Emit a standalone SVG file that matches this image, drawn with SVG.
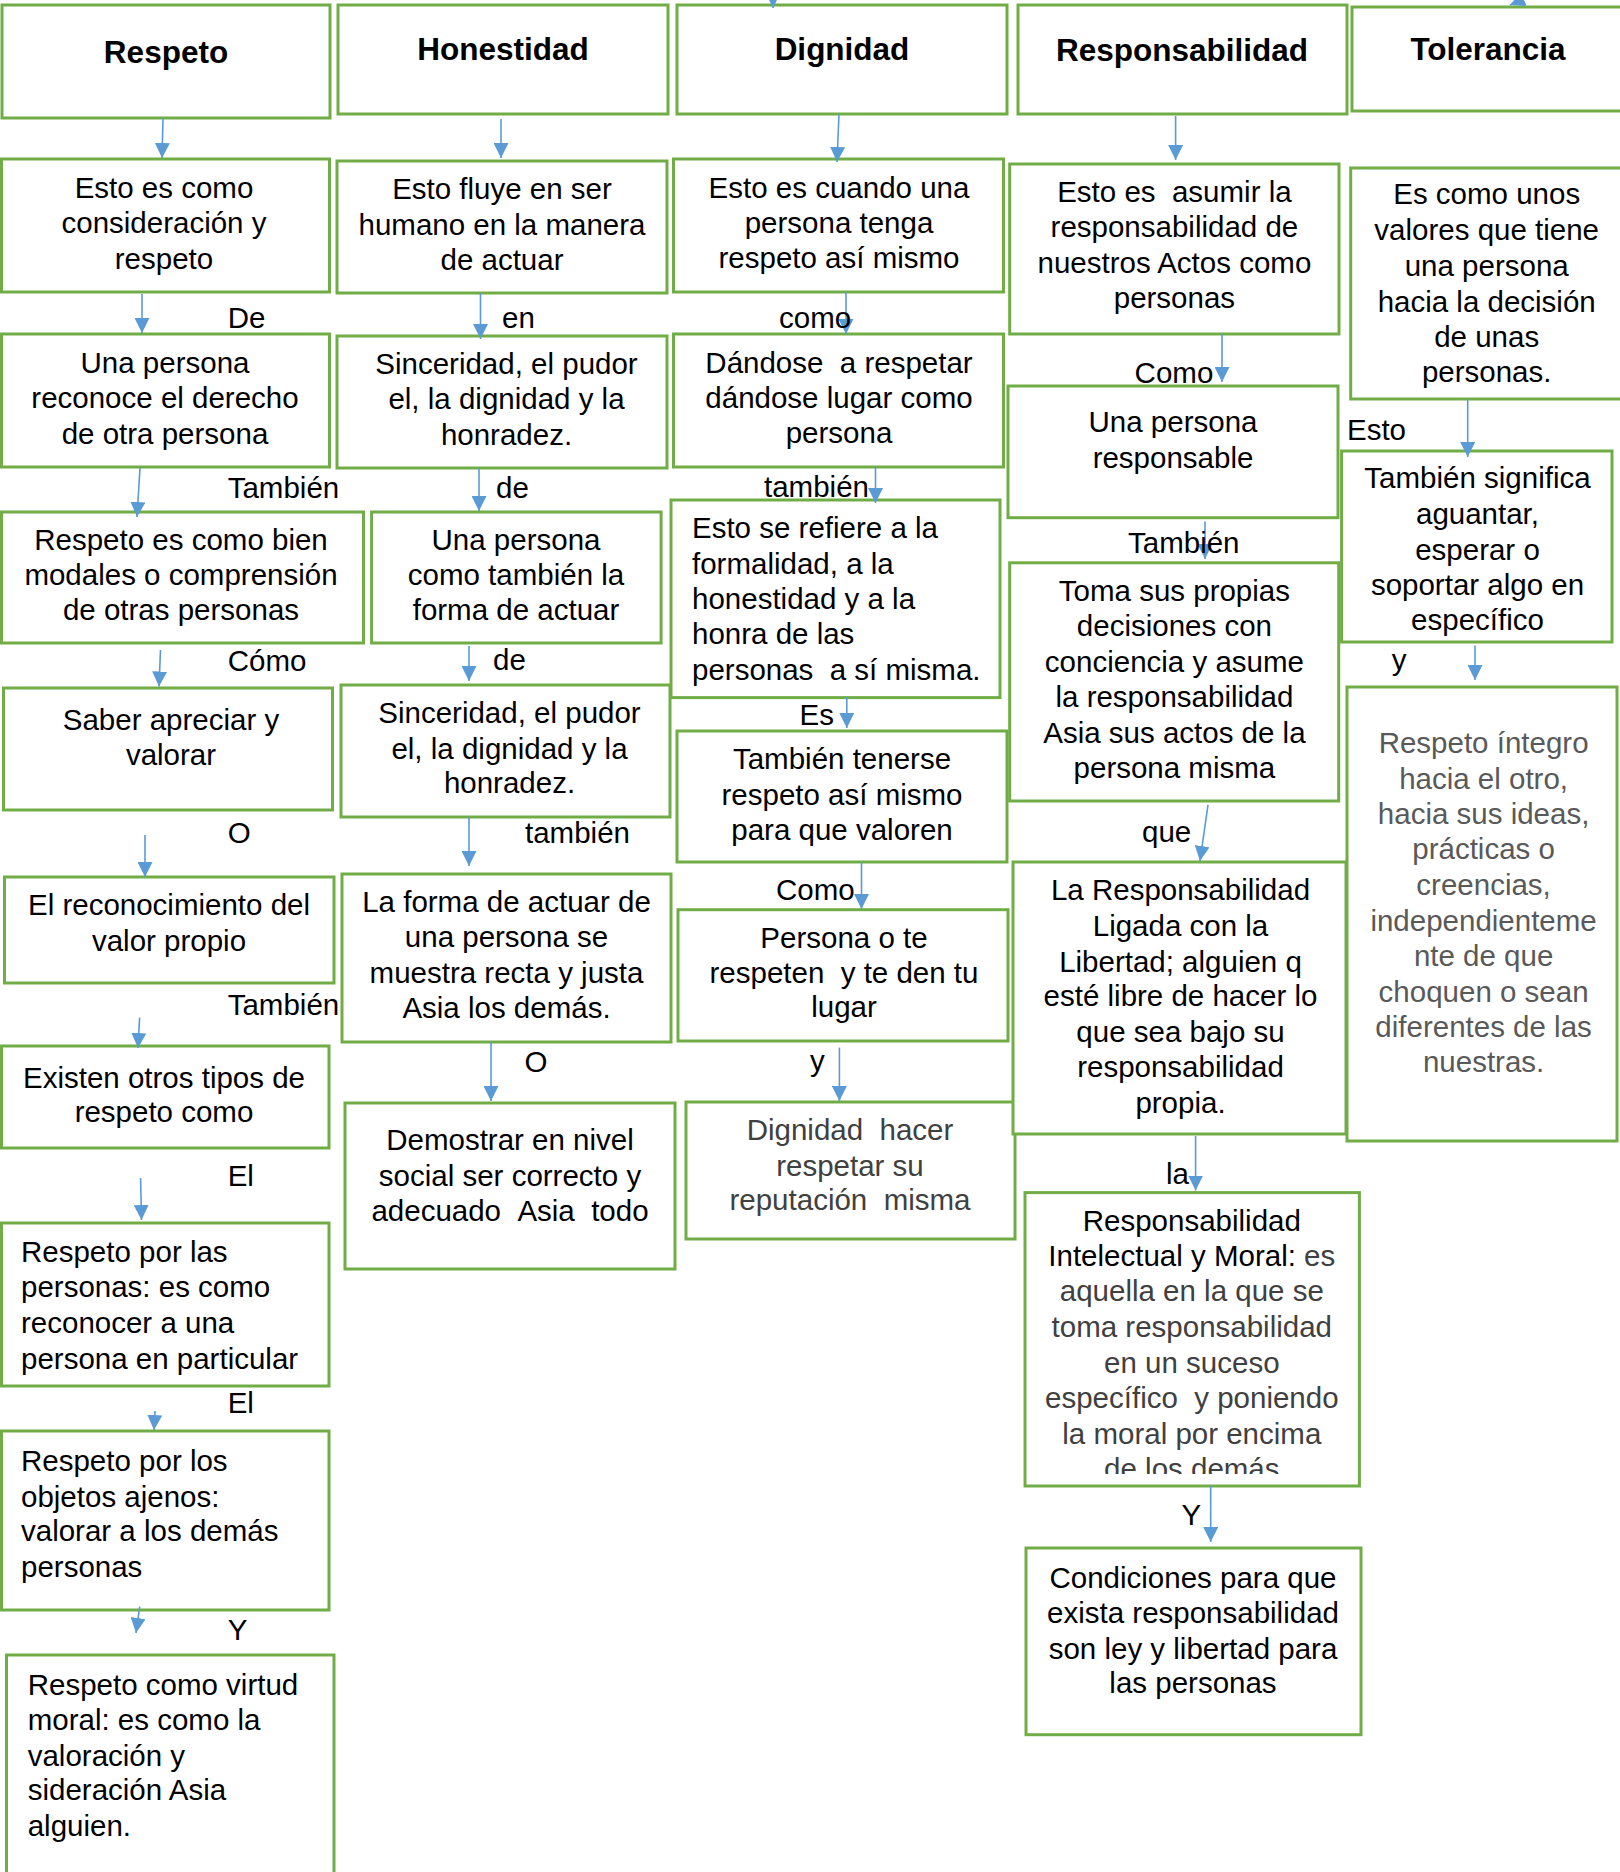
<svg xmlns="http://www.w3.org/2000/svg" width="1620" height="1872" viewBox="0 0 1620 1872">
<style>
.box{fill:#fff;stroke:#70AD47;stroke-width:3}
text{font-family:"Liberation Sans",Arial,sans-serif;font-size:29.5px;fill:#000}
.h{font-weight:bold;font-size:31.5px;text-anchor:middle}
.c{text-anchor:middle}
.g{fill:#595959}
.d{fill:#404040}
.ar{stroke:#5B9BD5;stroke-width:1.6;fill:none;marker-end:url(#ah)}
</style>
<defs>
<marker id="ah" viewBox="0 0 10 10" refX="10" refY="5" markerWidth="15" markerHeight="15" markerUnits="userSpaceOnUse" orient="auto">
<path d="M0,0 L10,5 L0,10 z" fill="#5B9BD5"/>
</marker>
<clipPath id="clip6"><rect x="1025" y="1192" width="334" height="282"/></clipPath>
</defs>
<rect x="0" y="0" width="1620" height="1872" fill="#fff"/>

<g id="col1">
<g id="n-respeto"><rect class="box" x="2" y="5" width="328" height="113"/><text class="h" x="166" y="63">Respeto</text></g>
<g id="n-c1b2"><rect class="box" x="1.5" y="159" width="328" height="133"/><text class="c"><tspan x="164" y="198">Esto es como</tspan><tspan x="164" y="233">consideración y</tspan><tspan x="164" y="269">respeto</tspan></text></g>
<g id="n-c1b3"><rect class="box" x="1.5" y="334" width="328" height="133"/><text class="c"><tspan x="165" y="373">Una persona</tspan><tspan x="165" y="408">reconoce el derecho</tspan><tspan x="165" y="444">de otra persona</tspan></text></g>
<g id="n-c1b4"><rect class="box" x="1.5" y="512" width="362" height="131"/><text class="c"><tspan x="181" y="550">Respeto es como bien</tspan><tspan x="181" y="585">modales o comprensión</tspan><tspan x="181" y="620">de otras personas</tspan></text></g>
<g id="n-c1b5"><rect class="box" x="3.5" y="688" width="329" height="122"/><text class="c"><tspan x="171" y="730">Saber apreciar y</tspan><tspan x="171" y="765">valorar</tspan></text></g>
<g id="n-c1b6"><rect class="box" x="4.5" y="877" width="329.5" height="106"/><text class="c"><tspan x="169" y="915">El reconocimiento del</tspan><tspan x="169" y="951">valor propio</tspan></text></g>
<g id="n-c1b7"><rect class="box" x="1.5" y="1046" width="327.5" height="102"/><text class="c"><tspan x="164" y="1088">Existen otros tipos de</tspan><tspan x="164" y="1122">respeto como</tspan></text></g>
<g id="n-c1b8"><rect class="box" x="1.5" y="1223" width="327.5" height="163"/><text><tspan x="21" y="1262">Respeto por las</tspan><tspan x="21" y="1297">personas: es como</tspan><tspan x="21" y="1333">reconocer a una</tspan><tspan x="21" y="1369">persona en particular</tspan></text></g>
<g id="n-c1b9"><rect class="box" x="1.5" y="1431" width="327.5" height="179"/><text><tspan x="21" y="1471">Respeto por los</tspan><tspan x="21" y="1507">objetos ajenos:</tspan><tspan x="21" y="1541">valorar a los demás</tspan><tspan x="21" y="1577">personas</tspan></text></g>
<g id="n-c1b10"><rect class="box" x="6.5" y="1655" width="327.5" height="240"/><text><tspan x="27.7" y="1695">Respeto como virtud</tspan><tspan x="27.7" y="1730">moral: es como la</tspan><tspan x="27.7" y="1766">valoración y</tspan><tspan x="27.7" y="1800">sideración Asia</tspan><tspan x="27.7" y="1836">alguien.</tspan></text></g>
</g>

<g id="col2">
<g id="n-honestidad"><rect class="box" x="338" y="5" width="330" height="109"/><text class="h" x="503" y="60">Honestidad</text></g>
<g id="n-c2b2"><rect class="box" x="337" y="161" width="330" height="132"/><text class="c"><tspan x="502" y="199">Esto fluye en ser</tspan><tspan x="502" y="235">humano en la manera</tspan><tspan x="502" y="270">de actuar</tspan></text></g>
<g id="n-c2b3"><rect class="box" x="337" y="336" width="330" height="132"/><text class="c"><tspan x="506.5" y="374">Sinceridad, el pudor</tspan><tspan x="506.5" y="409">el, la dignidad y la</tspan><tspan x="506.5" y="445">honradez.</tspan></text></g>
<g id="n-c2b4"><rect class="box" x="371.6" y="512" width="289.5" height="131"/><text class="c"><tspan x="516" y="550">Una persona</tspan><tspan x="516" y="585">como también la</tspan><tspan x="516" y="620">forma de actuar</tspan></text></g>
<g id="n-c2b5"><rect class="box" x="341" y="685" width="329" height="132"/><text class="c"><tspan x="509.5" y="723">Sinceridad, el pudor</tspan><tspan x="509.5" y="758.5">el, la dignidad y la</tspan><tspan x="509.5" y="793">honradez.</tspan></text></g>
<g id="n-c2b6"><rect class="box" x="342" y="874" width="329" height="168"/><text class="c"><tspan x="506.5" y="912">La forma de actuar de</tspan><tspan x="506.5" y="947">una persona se</tspan><tspan x="506.5" y="982.5">muestra recta y justa</tspan><tspan x="506.5" y="1018">Asia los demás.</tspan></text></g>
<g id="n-c2b7"><rect class="box" x="345" y="1103" width="330" height="166"/><text class="c"><tspan x="510" y="1150">Demostrar en nivel</tspan><tspan x="510" y="1186">social ser correcto y</tspan><tspan x="510" y="1221">adecuado &#160;Asia &#160;todo</tspan></text></g>
</g>

<g id="col3">
<g id="n-dignidad"><rect class="box" x="677" y="5" width="330" height="109"/><text class="h" x="842" y="60">Dignidad</text></g>
<g id="n-c3b2"><rect class="box" x="673.5" y="159" width="330" height="133"/><text class="c"><tspan x="839" y="198">Esto es cuando una</tspan><tspan x="839" y="233">persona tenga</tspan><tspan x="839" y="268">respeto así mismo</tspan></text></g>
<g id="n-c3b3"><rect class="box" x="673.5" y="334" width="330" height="133"/><text class="c"><tspan x="839" y="373">Dándose &#160;a respetar</tspan><tspan x="839" y="408">dándose lugar como</tspan><tspan x="839" y="443">persona</tspan></text></g>
<g id="n-c3b4"><rect class="box" x="671" y="500" width="329" height="197.6"/><text><tspan x="692" y="538">Esto se refiere a la</tspan><tspan x="692" y="573.6">formalidad, a la</tspan><tspan x="692" y="609">honestidad y a la</tspan><tspan x="692" y="644">honra de las</tspan><tspan x="692" y="680">personas &#160;a sí misma.</tspan></text></g>
<g id="n-c3b5"><rect class="box" x="677" y="731" width="330" height="131"/><text class="c"><tspan x="842" y="769">También tenerse</tspan><tspan x="842" y="805">respeto así mismo</tspan><tspan x="842" y="839.5">para que valoren</tspan></text></g>
<g id="n-c3b6"><rect class="box" x="678" y="909.7" width="330" height="131.3"/><text class="c"><tspan x="844" y="948">Persona o te</tspan><tspan x="844" y="982.6">respeten &#160;y te den tu</tspan><tspan x="844" y="1017">lugar</tspan></text></g>
<g id="n-c3b7"><rect class="box" x="686" y="1102" width="329" height="137"/><text class="c d"><tspan x="850" y="1140">Dignidad &#160;hacer</tspan><tspan x="850" y="1176">respetar su</tspan><tspan x="850" y="1210">reputación &#160;misma</tspan></text></g>
</g>

<g id="col4">
<g id="n-responsabilidad"><rect class="box" x="1018" y="5" width="329" height="109"/><text class="h" x="1182" y="61">Responsabilidad</text></g>
<g id="n-c4b2"><rect class="box" x="1009.7" y="164" width="329.3" height="170"/><text class="c"><tspan x="1174.4" y="202">Esto es &#160;asumir la</tspan><tspan x="1174.4" y="237">responsabilidad de</tspan><tspan x="1174.4" y="273">nuestros Actos como</tspan><tspan x="1174.4" y="308">personas</tspan></text></g>
<g id="n-c4b3"><rect class="box" x="1008" y="386" width="330" height="131.7"/><text class="c"><tspan x="1173" y="432">Una persona</tspan><tspan x="1173" y="468">responsable</tspan></text></g>
<g id="n-c4b4"><rect class="box" x="1009.7" y="562.8" width="329" height="238.2"/><text class="c"><tspan x="1174.4" y="601">Toma sus propias</tspan><tspan x="1174.4" y="636">decisiones con</tspan><tspan x="1174.4" y="671.6">conciencia y asume</tspan><tspan x="1174.4" y="707">la responsabilidad</tspan><tspan x="1174.4" y="742.7">Asia sus actos de la</tspan><tspan x="1174.4" y="778">persona misma</tspan></text></g>
<g id="n-c4b5"><rect class="box" x="1013" y="862" width="333" height="272"/><text class="c"><tspan x="1180.5" y="900">La Responsabilidad</tspan><tspan x="1180.5" y="935.7">Ligada con la</tspan><tspan x="1180.5" y="971.7">Libertad; alguien q</tspan><tspan x="1180.5" y="1006.4">esté libre de hacer lo</tspan><tspan x="1180.5" y="1042.4">que sea bajo su</tspan><tspan x="1180.5" y="1077">responsabilidad</tspan><tspan x="1180.5" y="1112.6">propia.</tspan></text></g>
<g id="n-c4b6"><rect class="box" x="1025" y="1192.6" width="334.4" height="293.4"/><g clip-path="url(#clip6)"><text class="c"><tspan x="1191.8" y="1230.5">Responsabilidad</tspan><tspan x="1191.8" y="1266">Intelectual y Moral: <tspan class="d">es</tspan></tspan></text><text class="c d"><tspan x="1191.8" y="1301">aquella en la que se</tspan><tspan x="1191.8" y="1336.5">toma responsabilidad</tspan><tspan x="1191.8" y="1372.7">en un suceso</tspan><tspan x="1191.8" y="1408">específico &#160;y poniendo</tspan><tspan x="1191.8" y="1444">la moral por encima</tspan><tspan x="1191.8" y="1479">de los demás</tspan></text></g></g>
<g id="n-c4b7"><rect class="box" x="1026" y="1548" width="335" height="186.7"/><text class="c"><tspan x="1193" y="1588">Condiciones para que</tspan><tspan x="1193" y="1623">exista responsabilidad</tspan><tspan x="1193" y="1659">son ley y libertad para</tspan><tspan x="1193" y="1693.4">las personas</tspan></text></g>
</g>

<g id="col5">
<g id="n-tolerancia"><rect class="box" x="1352" y="7" width="300" height="104"/><text class="h" x="1488" y="60">Tolerancia</text></g>
<g id="n-c5b2"><rect class="box" x="1350.7" y="168" width="300" height="231"/><text class="c"><tspan x="1486.7" y="204">Es como unos</tspan><tspan x="1486.7" y="240">valores que tiene</tspan><tspan x="1486.7" y="276">una persona</tspan><tspan x="1486.7" y="311.7">hacia la decisión</tspan><tspan x="1486.7" y="346.7">de unas</tspan><tspan x="1486.7" y="381.7">personas.</tspan></text></g>
<g id="n-c5b3"><rect class="box" x="1341.6" y="451" width="270.4" height="191"/><text class="c"><tspan x="1477.5" y="488">También significa</tspan><tspan x="1477.5" y="524">aguantar,</tspan><tspan x="1477.5" y="559.7">esperar o</tspan><tspan x="1477.5" y="595.3">soportar algo en</tspan><tspan x="1477.5" y="630.4">específico</tspan></text></g>
<g id="n-c5b4"><rect class="box" x="1347" y="687" width="270" height="454"/><text class="c g"><tspan x="1483.6" y="752.7">Respeto íntegro</tspan><tspan x="1483.6" y="788.5">hacia el otro,</tspan><tspan x="1483.6" y="823.5">hacia sus ideas,</tspan><tspan x="1483.6" y="859">prácticas o</tspan><tspan x="1483.6" y="895">creencias,</tspan><tspan x="1483.6" y="930.5">independienteme</tspan><tspan x="1483.6" y="966">nte de que</tspan><tspan x="1483.6" y="1002">choquen o sean</tspan><tspan x="1483.6" y="1037">diferentes de las</tspan><tspan x="1483.6" y="1072">nuestras.</tspan></text></g>
</g>

<g id="connectors">
<line class="ar" x1="163" y1="118" x2="162" y2="158"/>
<line class="ar" x1="142" y1="294" x2="142" y2="333"/>
<line class="ar" x1="140" y1="468" x2="137" y2="517"/>
<line class="ar" x1="160.5" y1="650" x2="159" y2="686.5"/>
<line class="ar" x1="145" y1="835" x2="145" y2="877"/>
<line class="ar" x1="139.6" y1="1017.6" x2="138" y2="1048"/>
<line class="ar" x1="140.6" y1="1178" x2="141.5" y2="1220"/>
<line class="ar" x1="155" y1="1411" x2="154" y2="1430"/>
<line class="ar" x1="139.7" y1="1606.6" x2="136" y2="1633"/>

<line class="ar" x1="501" y1="119" x2="501" y2="158"/>
<line class="ar" x1="480.5" y1="293" x2="480.5" y2="339"/>
<line class="ar" x1="479" y1="468" x2="479" y2="511"/>
<line class="ar" x1="469" y1="646" x2="469" y2="681"/>
<line class="ar" x1="469" y1="817" x2="469" y2="866"/>
<line class="ar" x1="491" y1="1042" x2="491" y2="1101"/>

<line class="ar" x1="773" y1="-20" x2="773" y2="8"/>
<line class="ar" x1="839" y1="114" x2="837" y2="162"/>
<line class="ar" x1="846" y1="292" x2="846" y2="334"/>
<line class="ar" x1="875.5" y1="467" x2="875.5" y2="503"/>
<line class="ar" x1="846.8" y1="697" x2="846.8" y2="728"/>
<line class="ar" x1="861.5" y1="862" x2="861.5" y2="909"/>
<line class="ar" x1="839.4" y1="1047.6" x2="839.4" y2="1101"/>

<line class="ar" x1="1175.6" y1="116" x2="1175.6" y2="160"/>
<line class="ar" x1="1222" y1="334" x2="1222" y2="382"/>
<line class="ar" x1="1205" y1="521.6" x2="1205" y2="559"/>
<line class="ar" x1="1208" y1="804.8" x2="1200" y2="861"/>
<line class="ar" x1="1195.6" y1="1136" x2="1195.6" y2="1190.5"/>
<line class="ar" x1="1210.7" y1="1486" x2="1210.7" y2="1542"/>

<line class="ar" x1="1550" y1="-12" x2="1510" y2="5"/>
<line class="ar" x1="1467.7" y1="399" x2="1467.7" y2="457"/>
<line class="ar" x1="1475" y1="645.6" x2="1475" y2="680"/>
</g>

<g id="labels">
<text x="227.7" y="328">De</text>
<text x="227.7" y="498">También</text>
<text x="227.7" y="670.5">Cómo</text>
<text x="227.7" y="842.7">O</text>
<text x="227.7" y="1015">También</text>
<text x="227.7" y="1186">El</text>
<text x="227.7" y="1413">El</text>
<text x="227.7" y="1639.5">Y</text>
<text x="502" y="328">en</text>
<text x="496" y="498">de</text>
<text x="493" y="670">de</text>
<text x="525" y="842.7">también</text>
<text x="524.5" y="1072">O</text>
<text x="779" y="328">como</text>
<text x="764" y="497">también</text>
<text x="799.6" y="725">Es</text>
<text x="776" y="900">Como</text>
<text x="810" y="1071">y</text>
<text x="1134.6" y="383">Como</text>
<text x="1128" y="553">También</text>
<text x="1142" y="841.6">que</text>
<text x="1166" y="1184">la</text>
<text x="1181.5" y="1525">Y</text>
<text x="1347" y="440">Esto</text>
<text x="1391.8" y="670">y</text>
</g>
</svg>
